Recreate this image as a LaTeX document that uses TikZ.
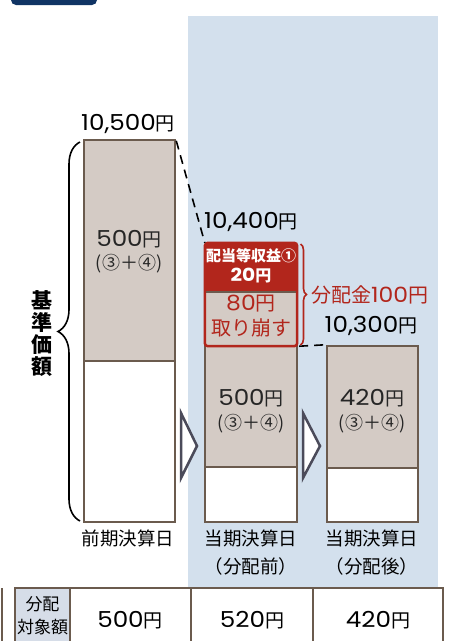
\documentclass[tikz,border=0pt]{standalone}
\usepackage{fontspec}
\setmainfont{Noto Sans CJK JP}
\newfontfamily\digitfont[FakeStretch=1.12]{Poppins}
\newcommand\dg[1]{{\digitfont\fontsize{22}{22}\selectfont #1}}
\newcommand\dgs[2]{{\digitfont\fontsize{#1}{#1}\selectfont #2}}
\usetikzlibrary{decorations.pathreplacing}
\definecolor{barline}{RGB}{107,91,78}
\definecolor{grayfill}{RGB}{212,203,197}
\definecolor{bluebg}{RGB}{211,224,237}
\definecolor{redc}{RGB}{178,38,28}
\definecolor{navy}{RGB}{16,52,100}
\definecolor{trigray}{RGB}{75,75,90}
\definecolor{headfill}{RGB}{214,221,232}
\begin{document}
\begin{tikzpicture}[x=1pt,y=-1pt,
  bar/.style={draw=barline, line width=2.5pt, fill=#1, minimum width=91pt, inner sep=0pt},
  num/.style={font=\fontsize{19}{19}\selectfont, inner sep=0pt},
  paren/.style={font=\fontsize{18}{18}\selectfont, inner sep=0pt, text=black!85},
  lab/.style={font=\fontsize{18.5}{18.5}\selectfont, inner sep=0pt},
  tri/.style={draw=trigray, line width=2.5pt, fill=white, line join=miter},
  dashline/.style={dashed, dash pattern=on 9pt off 6pt, line width=1.6pt},
  tab/.style={draw=barline, line width=2pt},
  redtxt/.style={text=redc, font=\fontsize{20}{20}\selectfont, inner sep=0pt}]
\clip (0,0) rectangle (460,641);
\fill[navy, rounded corners=5pt] (11,-12) rectangle (97,5);
\fill[bluebg] (188,16) rectangle (438,587);

% left bar
\node[bar=grayfill, minimum height=221pt] (lg) at (129.5,250.5) {};
\node[bar=white, minimum height=161pt] (lw) at (129.5,441.5) {};
% middle bar
\node[bar=grayfill, minimum width=92pt, minimum height=121pt] (mg) at (251,406.5) {};
\node[bar=white, minimum width=92pt, minimum height=55pt] (mw) at (251,494.5) {};
\node[fill=redc, minimum width=92pt, minimum height=49pt, inner sep=0pt] (mr) at (251,267.5) {};
\node[fill=grayfill, minimum width=92pt, minimum height=54pt, inner sep=0pt] (mt) at (251,319) {};
\draw[barline, line width=2pt] (mt.north west) -- (mt.north east);
\draw[redc, line width=2.5pt, rounded corners=3pt] (mr.north west) rectangle (mt.south east);
% right bar
\node[bar=grayfill, minimum height=122pt] (rg) at (372.5,407) {};
\node[bar=white, minimum height=54pt] (rw) at (372.5,495) {};

% dashed connectors
\draw[dashline] ([yshift=-2pt]lg.north east) -- (mr.north west);
\draw[dashline] ([xshift=2pt]mt.south east) -- (rg.north west);

% triangles
\draw[tri] (181,413) -- (197,446) -- (181,478) -- cycle;
\draw[tri] (303,413) -- (320,446) -- (303,478) -- cycle;

% values above bars
\node[num] (t1) at (128,124) {\dg{10,500}円};
\node[num] (t2) at (251,222) {\dg{10,400}円};
\node[num] (t3) at (371,326) {\dg{10,300}円};

% bar labels
\node[num, text=black!85] (l1) at (129,239) {\dg{500}円};
\node[paren] (l2) at (129,264) {(③＋④)};
\node[num, text=black!85] (m1) at (251,398) {\dg{500}円};
\node[paren] (m2) at (251,424) {(③＋④)};
\node[num, text=black!85] (r1) at (372,398) {\dg{420}円};
\node[paren] (r2) at (372,424) {(③＋④)};

% red box
\node[text=white, font=\bfseries\fontsize{15}{15}\selectfont, inner sep=0pt] (rb1) at (251,256) {配当等収益①};
\node[text=white, font=\bfseries\fontsize{16}{16}\selectfont, inner sep=0pt] (rb2) at (251,276) {{\digitfont\bfseries\fontsize{18}{18}\selectfont 20}円};
\node[redtxt] (rb3) at (251,304) {\dgs{21}{80}円};
\node[redtxt] (rb4) at (251,328) {取り崩す};
\draw[redc, line width=1.6pt, decorate, decoration={brace, amplitude=6pt}] (300.5,244) -- (300.5,345);
\node[redtxt, anchor=west] (dist) at (311,295) {分配金\dgs{21}{100}円};

% left brace and vertical label
\draw[line width=1.6pt, decorate, decoration={brace, amplitude=22pt}] (80,521) -- (80,142);
\node[font=\bfseries\fontsize{21}{22}\selectfont, align=center, inner sep=0pt] (kijun) at (42,334) {基\\準\\価\\額};

% bottom labels
\node[lab] (b1) at (128,538) {前期決算日};
\node[lab] (b2) at (251,538) {当期決算日};
\node[lab] (b2b) at (251,566) {（分配前）};
\node[lab] (b3) at (372,538) {当期決算日};
\node[lab] (b3b) at (372,566) {（分配後）};

% table
\fill[headfill] (15,588) rectangle (70,660);
\draw[tab] (15,588) rectangle (443,660);
\draw[tab] (70,588) -- (70,660);
\draw[tab] (191,588) -- (191,660);
\draw[tab] (313,588) -- (313,660);
\draw[tab] (1.5,588) -- (1.5,660);
\node[font=\fontsize{17}{17}\selectfont, inner sep=0pt] (h1) at (42.5,604) {分配};
\node[font=\fontsize{17}{17}\selectfont, inner sep=0pt] (h2) at (42.5,627) {対象額};
\node[num] (v1) at (130,620) {\dg{500}円};
\node[num] (v2) at (252,620) {\dg{520}円};
\node[num] (v3) at (378,620) {\dg{420}円};
\end{tikzpicture}
\end{document}
